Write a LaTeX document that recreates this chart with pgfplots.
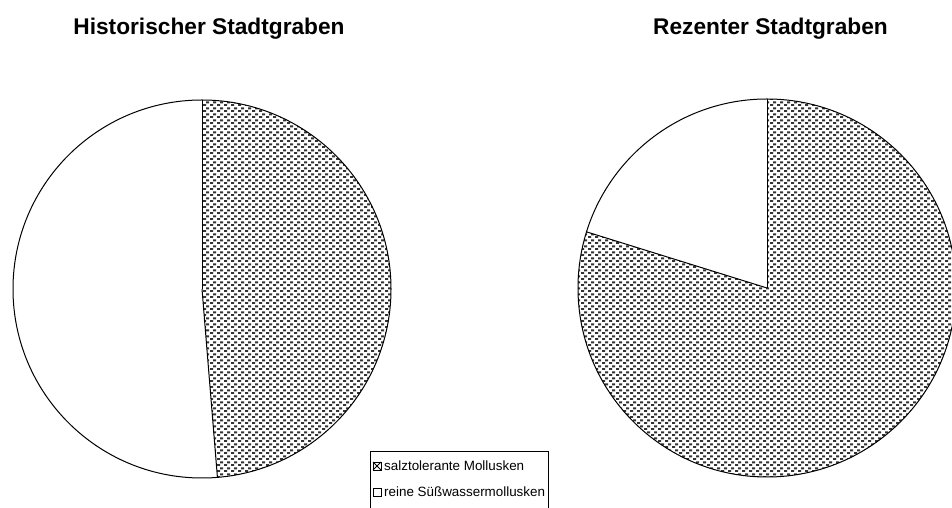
\documentclass[border=0pt]{standalone}
\usepackage{pgfplots}
\usepackage{pgfplotstable}
\pgfplotsset{compat=1.18}
\usetikzlibrary{patterns.meta}
\usepackage{fontspec}
\setmainfont{Liberation Sans}

\tikzdeclarepattern{
  name=molldots,
  type=uncolored,
  bounding box={(0pt,0pt) and (7pt,6pt)},
  tile size={(7pt,6pt)},
  code={
    \pgfpathrectangle{\pgfpoint{0pt}{0pt}}{\pgfpoint{3.5pt}{2.3pt}}
    \pgfpathrectangle{\pgfpoint{3.5pt}{3pt}}{\pgfpoint{3.5pt}{2.3pt}}
    \pgfusepath{fill}
  }
}

\pgfplotstableread{
site salt fresh
hist 48.7 51.3
rez 79.8 20.2
}\piedata
\pgfplotstablegetelem{0}{salt}\of\piedata \let\saltA\pgfplotsretval
\pgfplotstablegetelem{1}{salt}\of\piedata \let\saltB\pgfplotsretval
\pgfmathsetmacro\angA{90-3.6*\saltA}
\pgfmathsetmacro\angB{90-3.6*\saltB}

\begin{document}
\begin{tikzpicture}
\begin{axis}[
  scale only axis, width=952pt, height=508pt,
  xmin=0, xmax=952, ymin=0, ymax=508,
  hide axis, anchor=south west, at={(0pt,0pt)},
]
% left pie
\fill[white] (axis cs:202,219) -- ++(\angA:189pt) arc[start angle=\angA, end angle=-270, radius=189pt] -- cycle;
\fill[pattern=molldots, pattern color=black!80] (axis cs:202,219) -- ++(90:189pt) arc[start angle=90, end angle=\angA, radius=189pt] -- cycle;
\draw[line width=1pt] (axis cs:202,219) circle[radius=189pt];
\draw[line width=1pt] (axis cs:202,219) -- ++(90:189pt);
\draw[line width=1pt] (axis cs:202,219) -- ++(\angA:189pt);
% right pie
\fill[white] (axis cs:767,220) -- ++(\angB:189pt) arc[start angle=\angB, end angle=-270, radius=189pt] -- cycle;
\fill[pattern=molldots, pattern color=black!80] (axis cs:767,220) -- ++(90:189pt) arc[start angle=90, end angle=\angB, radius=189pt] -- cycle;
\draw[line width=1pt] (axis cs:767,220) circle[radius=189pt];
\draw[line width=1pt] (axis cs:767,220) -- ++(90:189pt);
\draw[line width=1pt] (axis cs:767,220) -- ++(\angB:189pt);
% titles
\node[anchor=base, font=\fontsize{22.7}{27}\selectfont\bfseries] at (axis cs:209,473) {Historischer Stadtgraben};
\node[anchor=base, font=\fontsize{22.7}{27}\selectfont\bfseries] at (axis cs:770.5,473) {Rezenter Stadtgraben};
% legend
\draw[fill=white, line width=1pt] (axis cs:370,56) rectangle (axis cs:548,-6);
\fill[white] (axis cs:373,38) rectangle (axis cs:381,46);
\draw[line width=0.8pt] (axis cs:373,38) rectangle (axis cs:381,46);
\draw[line width=0.8pt] (axis cs:373,38) -- (axis cs:381,46) (axis cs:373,46) -- (axis cs:381,38);
\draw[line width=0.8pt, fill=white] (axis cs:373,12) rectangle (axis cs:381,20);
\node[anchor=base west, inner sep=0pt, font=\fontsize{13.4}{15}\selectfont] at (axis cs:384,37) {salztolerante Mollusken};
\node[anchor=base west, inner sep=0pt, font=\fontsize{13.4}{15}\selectfont] at (axis cs:384,11) {reine Süßwassermollusken};
\end{axis}
\pgfresetboundingbox
\useasboundingbox (0pt,0pt) rectangle (952pt,508pt);
\end{tikzpicture}
\end{document}
